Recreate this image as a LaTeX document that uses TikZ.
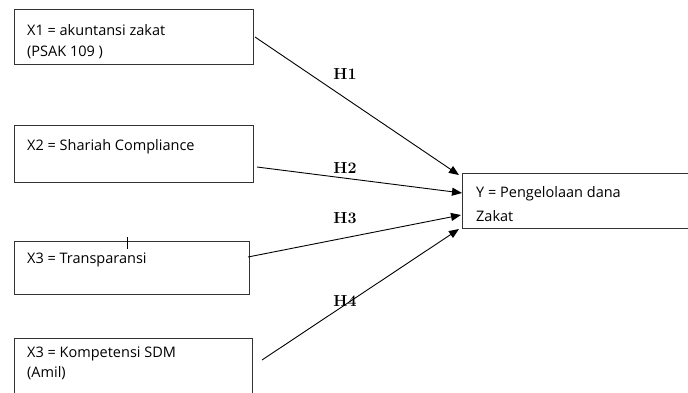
\documentclass[tikz,border=0pt]{standalone}
\usepackage{fontspec}
\newfontfamily\boxfont{Open Sans}
\usetikzlibrary{arrows.meta}
\tikzset{
  box/.style={draw=black!80, line width=0.9pt, rectangle, inner sep=0pt, anchor=north west},
  txt/.style={anchor=base west, inner sep=0pt, font=\boxfont\fontsize{14.5}{18}\selectfont},
  hyp/.style={anchor=base, inner sep=0pt, font=\bfseries\fontsize{16}{18}\selectfont},
  conn/.style={draw=black, line width=0.9pt, -{Triangle[length=10pt,width=8pt]}}
}
\begin{document}
\begin{tikzpicture}[x=1pt,y=-1pt]
\useasboundingbox (0,0) rectangle (688,392);
\clip (0,0) rectangle (688,392);
% boxes
\node[box, minimum width=239pt, minimum height=55pt] (x1) at (14,9) {};
\node[box, minimum width=239pt, minimum height=57pt] (x2) at (14,125) {};
\node[box, minimum width=235pt, minimum height=53pt] (x3) at (14,241) {};
\node[box, minimum width=238pt, minimum height=62pt] (x4) at (14,338) {};
\node[box, minimum width=240pt, minimum height=55pt] (y) at (462,173) {};
% texts
\node[txt] (t1a) at (27,35.5) {X1 = akuntansi zakat};
\node[txt] (t1b) at (27,56.5) {(PSAK 109 )};
\node[txt] (t2) at (27,150) {X2 = Shariah Compliance};
\node[txt] (t3) at (27,263) {X3 = Transparansi};
\node[txt] (t4a) at (27,357) {X3 = Kompetensi SDM};
\node[txt] (t4b) at (27,377) {(Amil)};
\node[txt] (ty1) at (476,197) {Y = Pengelolaan dana};
\node[txt] (ty2) at (476,221) {Zakat};
% stray mark
\coordinate (m1) at (127,237);
\coordinate (m2) at (127,249);
\draw[line width=0.8pt] (m1) -- (m2);
% connector end points
\coordinate (s1) at (255,37);
\coordinate (s2) at (257,167);
\coordinate (s3) at (248,257);
\coordinate (s4) at (262,360);
\coordinate (e1) at (459,175);
\coordinate (e2) at (462,193);
\coordinate (e3) at (461,215);
\coordinate (e4) at (459,229);
\draw[conn] (s1) -- (e1);
\draw[conn] (s2) -- (e2);
\draw[conn] (s3) -- (e3);
\draw[conn] (s4) -- (e4);
% labels
\node[hyp] (h1) at (345,79) {H1};
\node[hyp] (h2) at (345,173) {H2};
\node[hyp] (h3) at (345,223) {H3};
\node[hyp] (h4) at (345,306) {H4};
\end{tikzpicture}
\end{document}
